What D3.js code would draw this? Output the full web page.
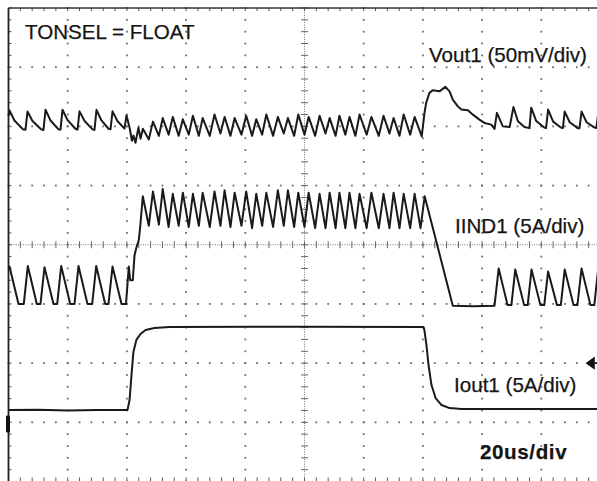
<!DOCTYPE html>
<html>
<head>
<meta charset="utf-8">
<title>TONSEL = FLOAT load step</title>
<style>
  body { margin: 0; background: #fff; }
  svg { display: block; }
  .trace { fill: none; stroke: #1a1a1a; stroke-width: 2; stroke-linejoin: round; }
  .lbl { font-family: "Liberation Sans", Arial, sans-serif; font-size: 20.6px; fill: #151515; stroke: #151515; stroke-width: 0.25; }
</style>
<script src="https://d3js.org/d3.v7.min.js"></script>
</head>
<body>
<script>
// time in us, 20us/div, 10 divisions
var timeDomain = [0, 200];
var divDomain = [-4, 4];

// Vout1 ripple, mV (50mV/div)
var vout1 = [
  [0, 5], [0.34, 9.5], [2.0, 1], [4.9, -6.5], [5.74, -6.8], [6.42, 8.5], [8.1, 0.5], [11.0, -6.5],
  [11.82, -7], [12.5, 10], [14.2, 1], [16.9, -6.5], [17.56, -6.8], [18.24, 10], [19.9, 1.5], [22.6, -6],
  [23.31, -6.8], [23.99, 8.7], [25.7, 0.5], [28.4, -6.5], [29.05, -7], [29.73, 10], [31.4, 1], [33.8, -6],
  [34.46, -6.5], [35.14, 8.7], [36.8, 0.5], [39.19, -5.9], [39.86, 5.3], [40.9, -5.1], [41.7, -16.1],
  [42.2, -11.8], [42.9, -17.8], [43.9, -5.1], [44.6, -14.4], [45.4, -6], [47.4, -15],
  [48.8, 0], [50.8, -12], [52.1, 3], [54.1, -11], [55.5, 4], [57.5, -12], [58.9, 2], [60.9, -11],
  [62.3, 5], [64.3, -12], [65.6, 3], [68.0, -12], [69.6, 6], [71.6, -10], [73.0, 4], [75.0, -12],
  [76.4, 3], [78.7, -11], [80.3, 5], [82.3, -12], [83.7, 2], [85.7, -11], [87.1, 6], [89.4, -12],
  [91.0, 4], [93.0, -10], [94.4, 3], [96.5, -12], [97.9, 6], [100.0, -11], [101.4, 4], [103.6, -12],
  [105.1, 5], [107.1, -10], [108.5, 3], [110.5, -12], [111.8, 5], [113.8, -11], [115.2, 4], [117.2, -12],
  [118.6, 6], [121.0, -11], [122.6, 4], [125.1, -12], [126.7, 5], [128.7, -10], [130.1, 3], [132.1, -12],
  [133.5, 6], [135.7, -11], [137.2, 4], [139.6, -12.5],
  [140.54, 7.4], [141.1, 15.8], [142.2, 24.3], [143.3, 26.5], [145.6, 25.6], [147.6, 29.4], [149.0, 25.6],
  [150.1, 18.6], [151.8, 12.9], [153.0, 10.2], [155.2, 9.6], [156.9, 5.9], [159.1, 1.7], [160.8, -1.1],
  [163.1, -2.5], [164.2, -6.2], [165.0, 7.4], [167.0, -4.0], [169.3, -4.5], [170.6, 12.4], [172.1, 0.3],
  [174.3, -4.5], [176.0, -5.5], [176.6, 11.8], [178.3, 0.5], [181.0, -5.0], [181.6, -5.5], [182.3, 10.2],
  [184.0, 0], [186.6, -5.0], [187.3, -5.3], [187.9, 8.5], [189.6, -0.5], [192.3, -5.5], [192.9, -5.5],
  [193.6, 8.5], [195.3, -0.5], [198.0, -5.0], [198.6, -5.3], [199.3, 8.0], [200.5, 2]
];

// IIND1 inductor current, A (5A/div)
var iind1 = [
  [0, 2.9], [0.34, 3.16], [3.38, 0], [5.17, 0], [6.52, 3.2], [9.56, 0], [10.81, 0], [12.16, 3.1],
  [15.2, 0], [16.45, 0], [17.8, 3.2], [20.84, 0], [22.3, 0], [23.65, 3.2], [26.69, 0], [28.28, 0],
  [29.63, 3.2], [32.67, 0], [33.78, 0], [35.14, 3.16], [38.18, 0], [39.7, 0], [40.64, 3.16], [41.11, 2.0],
  [41.99, 2.0], [42.57, 4.1], [43.14, 4.7], [44.02, 5.4], [44.49, 6.5], [45.37, 9.1],
  [47.4, 6.6], [48.8, 9.5], [50.8, 6.7], [52.1, 9.7], [54.1, 6.5], [55.5, 9.3], [57.5, 6.6], [58.9, 9.4],
  [60.9, 6.5], [62.3, 9.3], [64.3, 6.6], [65.6, 9.4], [68.0, 6.5], [69.6, 9.5], [71.6, 6.6], [73.0, 9.6],
  [75.0, 6.5], [76.4, 9.4], [78.7, 6.6], [80.3, 9.5], [82.3, 6.4], [83.7, 9.3], [85.7, 6.6], [87.1, 9.4],
  [89.4, 6.5], [91.0, 9.6], [93.0, 6.6], [94.4, 9.6], [96.5, 6.5], [97.9, 9.4], [100.0, 6.5], [101.4, 9.4],
  [103.6, 6.4], [105.1, 9.3], [107.1, 6.4], [108.5, 9.4], [110.5, 6.4], [111.8, 9.4], [113.8, 6.4],
  [115.2, 9.4], [117.2, 6.4], [118.6, 9.3], [121.0, 6.4], [122.6, 9.4], [125.1, 6.4], [126.7, 9.3],
  [128.7, 6.4], [130.1, 9.4], [132.1, 6.4], [133.5, 9.3], [135.7, 6.4], [137.2, 9.3], [139.2, 6.4],
  [140.6, 9.1], [150.1, -0.15], [157, -0.2], [164.2, -0.15],
  [165.6, 3.0], [168.6, -0.1], [169.9, -0.1], [171.2, 2.9], [174.2, -0.1], [175.4, -0.1], [176.7, 2.9],
  [179.7, -0.1], [181.0, -0.1], [182.3, 2.75], [185.3, -0.1], [186.6, -0.1], [187.9, 2.9], [190.9, -0.1],
  [192.2, -0.1], [193.6, 3.0], [196.6, -0.1], [197.9, -0.1], [199.2, 2.9], [200.3, 1.9]
];

// Iout1 load current, A (5A/div)
var iout1 = [
  [0, 1.18], [10, 1.22], [20, 1.15], [30, 1.2], [40.2, 1.18], [40.9, 2.03], [41.55, 4.15], [42.2, 6.09],
  [43.2, 7.11], [44.6, 7.61], [46.3, 7.95], [49.3, 8.12], [54.4, 8.21], [100, 8.22], [140.2, 8.21],
  [140.5, 7.95], [141.2, 6.68], [141.9, 4.99], [142.9, 3.3], [144.3, 2.2], [146.3, 1.61], [149.0, 1.35],
  [153.0, 1.27], [200.5, 1.27]
];

// channel: per-div scale and ground position (div from centre)
var channels = [
  { data: vout1, perDiv: 50, ground: 2.08 },
  { data: iind1, perDiv: 5, ground: -1.0 },
  { data: iout1, perDiv: 5, ground: -3.03 }
];

var svg = d3.select("body").append("svg").attr("width", 597).attr("height", 481);

var x = d3.scaleLinear().domain(timeDomain).range([8.5, 600.5]);
var y = d3.scaleLinear().domain(divDomain).range([481.5, 8]);

var grid = svg.append("g");

// dotted graticule
var minorT = d3.range(0, 200.01, 4);
var minorD = d3.range(-4, 4.01, 0.2);
[20, 40, 60, 80, 120, 140, 160, 180].forEach(function (t) {
  grid.selectAll(null).data(minorD).enter().append("rect")
    .attr("x", x(t) - 0.9).attr("y", function (d) { return y(d) - 0.9; })
    .attr("width", 1.8).attr("height", 1.8).attr("fill", "#6e6e6e");
});
[-3, -2, -1, 1, 2, 3].forEach(function (dv) {
  grid.selectAll(null).data(minorT).enter().append("rect")
    .attr("x", function (d) { return x(d) - 0.9; }).attr("y", y(dv) - 0.9)
    .attr("width", 1.8).attr("height", 1.8).attr("fill", "#6e6e6e");
});

// centre axes with fine dots and ticks
grid.append("line").attr("x1", x(0)).attr("x2", x(200)).attr("y1", y(0)).attr("y2", y(0))
  .attr("stroke", "#777").attr("stroke-width", 1).attr("stroke-dasharray", "1,1.4");
grid.append("line").attr("x1", x(100)).attr("x2", x(100)).attr("y1", y(-4)).attr("y2", y(4))
  .attr("stroke", "#777").attr("stroke-width", 1).attr("stroke-dasharray", "1,1.4");
grid.selectAll(null).data(minorT).enter().append("line")
  .attr("x1", function (d) { return x(d); }).attr("x2", function (d) { return x(d); })
  .attr("y1", y(0) - 3.5).attr("y2", y(0) + 3.5).attr("stroke", "#666").attr("stroke-width", 1);
grid.selectAll(null).data(minorD).enter().append("line")
  .attr("x1", x(100) - 3.5).attr("x2", x(100) + 3.5)
  .attr("y1", function (d) { return y(d); }).attr("y2", function (d) { return y(d); })
  .attr("stroke", "#666").attr("stroke-width", 1);

// border ticks
grid.selectAll(null).data(minorT).enter().append("line")
  .attr("x1", function (d) { return x(d); }).attr("x2", function (d) { return x(d); })
  .attr("y1", y(4)).attr("y2", y(4) + 3).attr("stroke", "#555");
grid.selectAll(null).data(minorT).enter().append("line")
  .attr("x1", function (d) { return x(d); }).attr("x2", function (d) { return x(d); })
  .attr("y1", y(-4) - 4).attr("y2", y(-4)).attr("stroke", "#555");
grid.selectAll(null).data(minorD).enter().append("line")
  .attr("x1", x(0)).attr("x2", x(0) + 3)
  .attr("y1", function (d) { return y(d); }).attr("y2", function (d) { return y(d); })
  .attr("stroke", "#555");

// frame
grid.append("line").attr("x1", x(0)).attr("x2", x(200)).attr("y1", y(4)).attr("y2", y(4))
  .attr("stroke", "#333").attr("stroke-width", 1.4);
grid.append("line").attr("x1", x(0)).attr("x2", x(0)).attr("y1", y(4)).attr("y2", y(-4))
  .attr("stroke", "#222").attr("stroke-width", 1.8);

// ground marker of Iout1 and trigger arrow
svg.append("rect").attr("x", x(0) - 2.5).attr("y", y(-3.03) - 8.5).attr("width", 4).attr("height", 17)
  .attr("rx", 1).attr("fill", "#111");
svg.append("path")
  .attr("d", "M" + 587 + "," + y(-2.0) + "l7,-5v10z M593," + y(-2.0) + "h5")
  .attr("fill", "#111").attr("stroke", "#111").attr("stroke-width", 1.6);

// traces
channels.forEach(function (ch) {
  var line = d3.line()
    .x(function (d) { return x(d[0]); })
    .y(function (d) { return y(ch.ground + d[1] / ch.perDiv); });
  svg.append("path").datum(ch.data).attr("class", "trace").attr("d", line);
});

// labels
var labels = ["TONSEL = FLOAT", "Vout1 (50mV/div)", "IIND1 (5A/div)", "Iout1 (5A/div)", "20us/div"];
var labelPos = [[25, 39], [429, 62], [455, 233], [454, 392], [480, 459]];
labels.forEach(function (s, i) {
  var t = svg.append("text").attr("class", "lbl")
    .attr("x", labelPos[i][0]).attr("y", labelPos[i][1]).text(s);
  if (i === 4) t.attr("font-weight", "bold").attr("letter-spacing", "0.6px");
});
</script>
</body>
</html>
